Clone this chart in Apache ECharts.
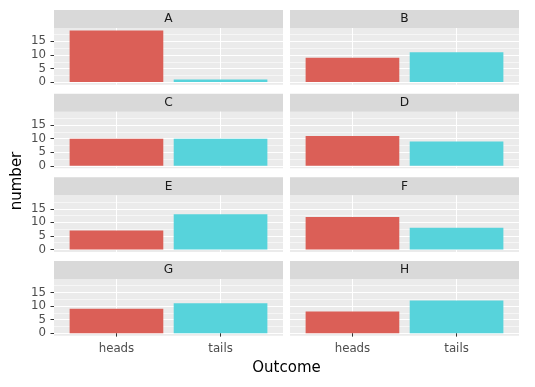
<!DOCTYPE html>
<html>
<head>
<meta charset="utf-8">
<script src="https://cdn.jsdelivr.net/npm/echarts@6/dist/echarts.min.js"></script>
<style>html,body{margin:0;padding:0;background:#fff;}#c{width:535px;height:387px;}</style>
</head>
<body>
<div id="c"></div>
<script>
const panels = ['A','B','C','D','E','F','G','H'];
const outcomes = ['heads','tails'];
const headsValues = [19, 9, 10, 11, 7, 12, 9, 8];
const tailsValues = [1, 11, 10, 9, 13, 8, 11, 12];
const yTicks = [0, 5, 10, 15];
const yMinor = [2.5, 7.5, 12.5, 17.5];
const colors = ['#db5f57', '#57d3db'];

const chart = echarts.init(document.getElementById('c'), null, {renderer: 'canvas'});
const font = 'DejaVu Sans';
const grids = [], xAxes = [], yAxes = [], series = [], graphics = [];
const L0 = 54, W = 229, colStep = 236, T0 = 28, rowStep = 83.67, H = 56.7, SH = 18;

panels.forEach((p, i) => {
  const r = Math.floor(i / 2), c = i % 2;
  const left = L0 + c * colStep, top = T0 + r * rowStep;
  const bottomRow = r === 3, leftCol = c === 0;
  grids.push({left: left, top: top, width: W, height: H, show: true, backgroundColor: '#EBEBEB', borderWidth: 0, containLabel: false});
  xAxes.push({
    type: 'value', gridIndex: i, min: 0.4, max: 2.6,
    axisLine: {show: false},
    axisTick: {show: bottomRow, customValues: [1, 2], length: 3.5, lineStyle: {color: '#333333', width: 1}},
    axisLabel: {show: bottomRow, customValues: [1, 2], margin: 7, color: '#4D4D4D', fontSize: 11.8, fontFamily: font,
      formatter: v => outcomes[Math.round(v) - 1] || ''},
    splitLine: {show: true, lineStyle: {color: '#FFFFFF', width: 1.1}}
  });
  yAxes.push({
    type: 'value', gridIndex: i, min: -0.95, max: 19.95,
    axisLine: {show: false},
    axisTick: {show: leftCol, customValues: yTicks, length: 3.5, lineStyle: {color: '#333333', width: 1}},
    axisLabel: {show: leftCol, customValues: yTicks, margin: 8, color: '#4D4D4D', fontSize: 11.8, fontFamily: font},
    splitLine: {show: true, lineStyle: {color: '#FFFFFF', width: 1.1}}
  });
  yAxes.push({
    type: 'value', gridIndex: i, min: -0.95, max: 19.95, position: 'left',
    axisLine: {show: false},
    axisTick: {show: false, customValues: yMinor},
    axisLabel: {show: false, customValues: yMinor},
    splitLine: {show: true, lineStyle: {color: '#FFFFFF', width: 0.55}}
  });
  series.push({
    type: 'bar', xAxisIndex: i, yAxisIndex: 2 * i, barWidth: 0.9 * W / 2.2,
    silent: true, animation: false,
    data: [
      {value: [1, headsValues[i]], itemStyle: {color: colors[0]}},
      {value: [2, tailsValues[i]], itemStyle: {color: colors[1]}}
    ]
  });
  graphics.push({type: 'rect', shape: {x: left, y: top - SH, width: W, height: SH}, style: {fill: '#D9D9D9'}, silent: true});
  graphics.push({type: 'text', x: left + W / 2, y: top - SH / 2, style: {text: p, fill: '#1A1A1A', font: '12.2px "DejaVu Sans"', align: 'center', verticalAlign: 'middle'}, silent: true});
});

graphics.push({type: 'text', x: L0 + (colStep + W) / 2, y: 368.5, style: {text: 'Outcome', fill: '#000000', font: '15px "DejaVu Sans"', align: 'center', verticalAlign: 'middle'}});
graphics.push({type: 'text', x: 17, y: 181, rotation: Math.PI / 2, style: {text: 'number', fill: '#000000', font: '15px "DejaVu Sans"', align: 'center', verticalAlign: 'middle'}});

chart.setOption({
  animation: false,
  backgroundColor: '#FFFFFF',
  grid: grids, xAxis: xAxes, yAxis: yAxes, series: series,
  graphic: graphics
});
</script>
</body>
</html>
